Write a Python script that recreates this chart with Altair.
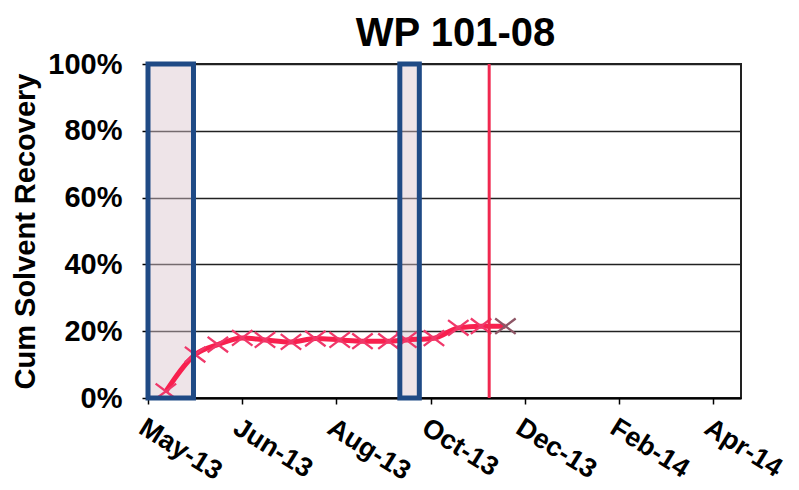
import altair as alt
import pandas as pd

# Data
dates = ["2013-05-12", "2013-05-30", "2013-06-13", "2013-06-28", "2013-07-12",
         "2013-07-28", "2013-08-12", "2013-08-27", "2013-09-10", "2013-09-26",
         "2013-10-07", "2013-10-24", "2013-11-08", "2013-11-22", "2013-12-07"]
recovery = [0.02, 0.13, 0.16, 0.18, 0.174, 0.168, 0.178, 0.174, 0.17, 0.17,
            0.174, 0.179, 0.21, 0.215, 0.215]
box_start = ["2013-05-01", "2013-10-03"]
box_end = ["2013-05-29", "2013-10-15"]
marker_date = ["2013-11-27"]
tick_dates = [(2013, 5, 1), (2013, 6, 28), (2013, 8, 25), (2013, 10, 22),
              (2013, 12, 19), (2014, 2, 15), (2014, 4, 14)]

df = pd.DataFrame({"date": dates, "rec": recovery})
df["grp"] = ["main"] * (len(dates) - 1) + ["last"]
boxes = pd.DataFrame({"start": box_start, "end": box_end, "lo": [0, 0], "hi": [1, 1]})
marker = pd.DataFrame({"date": marker_date})

FONT = "Liberation Sans"
xscale = alt.Scale(type="utc",
                   domain=[alt.DateTime(year=2013, month=5, date=1, utc=True),
                           alt.DateTime(year=2014, month=5, date=1, utc=True)])
yscale = alt.Scale(domain=[0, 1])

xaxis = alt.Axis(values=[alt.DateTime(year=y, month=m, date=d, utc=True) for y, m, d in tick_dates],
                 format="%b-%y", labelAngle=32, labelAlign="left", labelBaseline="top",
                 labelFont=FONT, labelFontSize=27, labelFontWeight="bold", labelColor="black",
                 labelPadding=10, tickSize=6, tickColor="black", tickWidth=1.5,
                 domainColor="black", domainWidth=2, grid=False, title=None, labelOverlap=False)
yaxis = alt.Axis(values=[0, 0.2, 0.4, 0.6, 0.8, 1.0], format=".0%",
                 labelFont=FONT, labelFontSize=29, labelFontWeight="bold", labelColor="black",
                 labelPadding=20, tickSize=6, tickColor="black", tickWidth=1.5,
                 domainColor="black", domainWidth=2, grid=True, gridColor="#222222", gridWidth=1.6,
                 title="Cum Solvent Recovery", titleFont=FONT, titleFontSize=29,
                 titleFontWeight="bold", titleColor="black", titlePadding=7)

rect_fill = alt.Chart(boxes).mark_rect(fill="#D9C3CC", fillOpacity=0.45, strokeWidth=0).encode(
    x=alt.X("start:T", scale=xscale, axis=xaxis),
    x2="end:T",
    y=alt.Y("lo:Q", scale=yscale, axis=yaxis),
    y2="hi:Q",
)

line = alt.Chart(df).mark_line(color="#F8204E", strokeWidth=5, interpolate="monotone").encode(
    x=alt.X("date:T", scale=xscale),
    y=alt.Y("rec:Q", scale=yscale),
)

xshape = "M-1,-0.75L1,0.75M-1,0.75L1,-0.75"
pts = alt.Chart(df).mark_point(shape=xshape, filled=False, strokeWidth=2.3, size=420, opacity=1).encode(
    x=alt.X("date:T", scale=xscale),
    y=alt.Y("rec:Q", scale=yscale),
    color=alt.Color("grp:N", scale=alt.Scale(domain=["main", "last"], range=["#F0386A", "#8E5666"]),
                    legend=None),
)

rect_stroke = alt.Chart(boxes).mark_rect(fill=None, filled=False, stroke="#1F4A85",
                                         strokeWidth=5).encode(
    x=alt.X("start:T", scale=xscale),
    x2="end:T",
    y=alt.Y("lo:Q", scale=yscale),
    y2="hi:Q",
)

rule = alt.Chart(marker).mark_rule(color="#F0284F", strokeWidth=3).encode(
    x=alt.X("date:T", scale=xscale),
)

chart = alt.layer(rect_fill, line, pts, rect_stroke, rule).properties(
    width=593, height=334,
    title=alt.TitleParams("WP 101-08", font=FONT, fontSize=40, fontWeight="bold", color="black",
                          anchor="middle", frame="group", offset=18, dx=11, dy=22),
    autosize=alt.AutoSizeParams(type="none"),
    padding={"left": 140, "top": 56, "right": 50, "bottom": 110},
).configure_view(stroke="#222222", strokeWidth=2)

chart.save("out.html", embed_options={"renderer": "svg", "actions": False})
